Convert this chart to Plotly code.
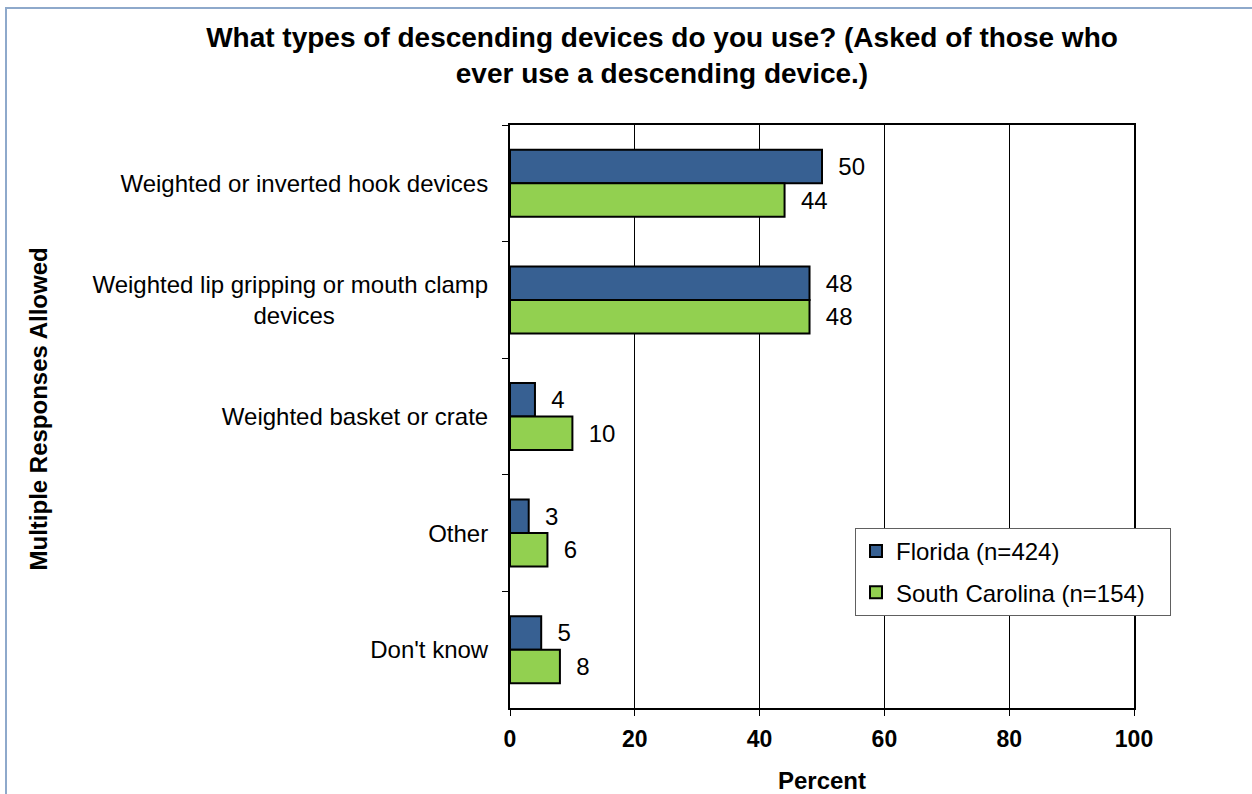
import plotly.graph_objects as go

# Survey responses (percent), multiple responses allowed
NB = "\u00a0"
categories = [
    "Weighted or inverted hook devices",
    "Weighted lip gripping or mouth clamp<br>devices" + NB * 23,
    "Weighted basket or crate",
    "Other",
    "Don't know",
]
florida = [50, 48, 4, 3, 5]
south_carolina = [44, 48, 10, 6, 8]
series_names = ["Florida (n=424)", "South Carolina (n=154)"]
x_ticks = [0, 20, 40, 60, 80, 100]

FONT = "Arial, 'Liberation Sans', sans-serif"
PAD = NB * 2

fig = go.Figure()
for i, (name, vals, color) in enumerate([
    (series_names[0], florida, "#376092"),
    (series_names[1], south_carolina, "#92D050"),
]):
    fig.add_trace(go.Bar(
        name=name + NB * 3,
        legendgroup=f"g{i}",
        y=categories,
        x=vals,
        orientation="h",
        marker=dict(color=color, line=dict(color="black", width=2)),
        text=[PAD + str(v) for v in vals],
        textposition="outside",
        textfont=dict(family=FONT, size=24, color="black"),
        cliponaxis=False,
    ))

W, H = 1252, 794
L, R, T, B = 510, 118, 125, 86
pw, ph = W - L - R, H - T - B

fig.update_layout(
    width=W, height=H,
    margin=dict(l=L, r=R, t=T, b=B, autoexpand=False),
    paper_bgcolor="white",
    plot_bgcolor="white",
    barmode="group",
    bargap=0.425,
    bargroupgap=0,
    font=dict(family=FONT, size=24, color="black"),
    title=dict(
        text="<b>What types of descending devices do you use? (Asked of those who<br>ever use a descending device.)</b>",
        x=662 / W, xanchor="center",
        yref="container",
        y=1 - 47 / H, yanchor="top",
        font=dict(family=FONT, size=28, color="black"),
    ),
    xaxis=dict(
        range=[0, 100],
        tickvals=x_ticks,
        ticktext=[f"<b>{t}</b>" for t in x_ticks],
        ticks="outside", ticklen=6, tickcolor="black", tickwidth=1,
        ticklabelstandoff=3,
        showgrid=True, gridcolor="black", gridwidth=1,
        showline=True, linecolor="black", linewidth=2, mirror=True,
        zeroline=False,
        automargin=False,
        tickfont=dict(family=FONT, size=23, color="black"),
        title=dict(text="<b>Percent</b>", font=dict(family=FONT, size=24), standoff=34),
    ),
    yaxis=dict(
        type="category",
        autorange="reversed",
        tickson="boundaries",
        ticks="outside", ticklen=6, tickcolor="black", tickwidth=1,
        showgrid=False,
        showline=True, linecolor="black", linewidth=2, mirror=True,
        automargin=False,
        tickfont=dict(family=FONT, size=24, color="black"),
        ticklabelstandoff=15,
    ),
    legend=dict(
        x=(855 - L) / pw, xanchor="left",
        y=(H - B - 528) / ph, yanchor="top",
        bgcolor="white",
        bordercolor="#606060", borderwidth=1,
        font=dict(family=FONT, size=24, color="black"),
        traceorder="grouped",
        tracegroupgap=7,
        itemwidth=30,
    ),
    showlegend=True,
)

# Rotated axis title on the far left
fig.add_annotation(
    text="<b>Multiple Responses Allowed</b>",
    xref="paper", yref="paper",
    x=(38 - L) / pw, y=0.5 + 7 / ph,
    xanchor="center", yanchor="middle",
    textangle=-90, showarrow=False,
    font=dict(family=FONT, size=24, color="black"),
)

# Light blue frame around the chart
fig.add_shape(
    type="rect", xref="paper", yref="paper",
    x0=(6 - L) / pw, x1=2.0,
    y0=-1.0, y1=1 + (T - 8) / ph,
    line=dict(color="#8EA9CB", width=2),
    fillcolor="rgba(0,0,0,0)",
    layer="below",
)

fig.write_html("out.html")
